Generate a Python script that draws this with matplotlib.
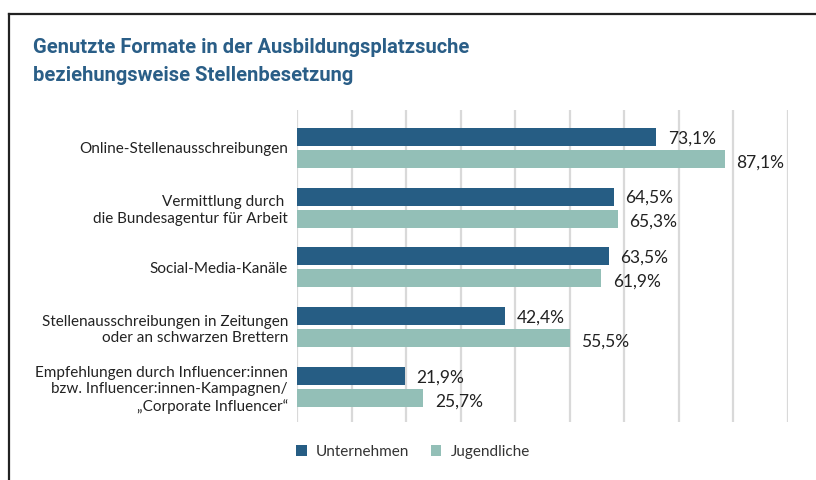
import numpy as np
import matplotlib
matplotlib.use("Agg")
import matplotlib.pyplot as plt
from matplotlib.lines import Line2D

plt.rcParams['font.family'] = ['Lato', 'DejaVu Sans']

categories = [
    "Online-Stellenausschreibungen",
    "Vermittlung durch \ndie Bundesagentur für Arbeit",
    "Social-Media-Kanäle",
    "Stellenausschreibungen in Zeitungen\noder an schwarzen Brettern",
    "Empfehlungen durch Influencer:innen\nbzw. Influencer:innen-Kampagnen/\n„Corporate Influencer“",
]
unternehmen = [73.1, 64.5, 63.5, 42.4, 21.9]
jugendliche = [87.1, 65.3, 61.9, 55.5, 25.7]
series_names = ["Unternehmen", "Jugendliche"]

dark_blue = "#265d84"
teal = "#93bfb7"
title_color = "#2a5e87"

fig = plt.figure(figsize=(8.16, 4.8), dpi=100)
ax = fig.add_axes([0.364, 0.121, 0.6017, 0.650])

y = np.arange(len(categories))
off = 0.184
h = 0.30
b1 = ax.barh(y - off, unternehmen, height=h, color=dark_blue, label=series_names[0], zorder=3)
b2 = ax.barh(y + off, jugendliche, height=h, color=teal, label=series_names[1], zorder=3)

for bars, vals, dy in ((b1, unternehmen, -1), (b2, jugendliche, -2.5)):
    for rect, v in zip(bars, vals):
        ax.annotate(f"{v:.1f}%".replace(".", ","),
                    (v, rect.get_y() + rect.get_height() / 2),
                    xytext=(8.5, dy), textcoords="offset points",
                    ha="left", va="center", fontsize=12.5, color="#222222")

ax.set_xlim(0, 100)
ax.set_ylim(4.585, -0.635)
ax.set_xticks(np.linspace(0, 100, 10))
ax.xaxis.grid(True, color="#d9d9d9", linewidth=1.6, zorder=0)
ax.tick_params(axis="x", length=0, labelbottom=False)
ax.set_yticks(y)
ax.set_yticklabels(categories, fontsize=11, color="#222222", linespacing=1.22)
ax.tick_params(axis="y", length=0, pad=6.5)
for s in ax.spines.values():
    s.set_visible(False)

fig.text(0.040, 0.92,
         "Genutzte Formate in der Ausbildungsplatzsuche\nbeziehungsweise Stellenbesetzung",
         fontsize=14.5, fontweight="bold", color=title_color, va="top", ha="left",
         linespacing=1.55, family=["Roboto", "DejaVu Sans"])

# frame lines along the top and left edge
fig.add_artist(Line2D([0.011, 1.0], [0.971, 0.971], color="#222222", linewidth=1.6))
fig.add_artist(Line2D([0.011, 0.011], [0.0, 0.971], color="#222222", linewidth=1.6))

fig.legend(handles=[b1, b2], labels=series_names, loc="center left",
           bbox_to_anchor=(0.346, 0.058), ncol=2, frameon=False,
           handlelength=0.7, handleheight=0.7, handletextpad=0.6,
           columnspacing=1.4, fontsize=11, labelcolor="#333333")

fig.savefig("out.png", dpi=100, facecolor="white")
